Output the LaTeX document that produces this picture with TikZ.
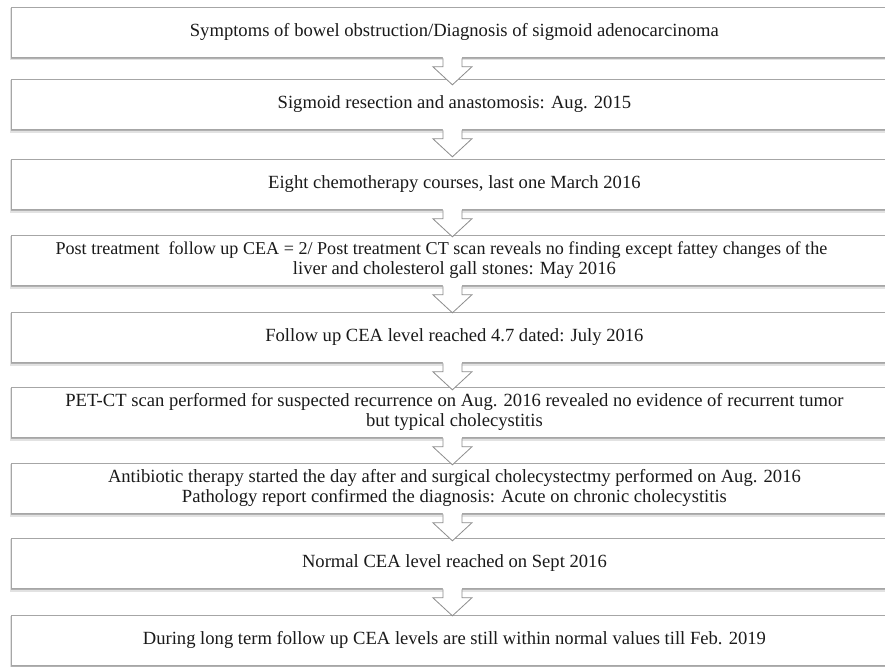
\documentclass[tikz,border=0pt]{standalone}
\usepackage{fontspec}
\setmainfont{Liberation Serif}
\definecolor{boxline}{HTML}{A6A6A6}
\definecolor{arrline}{HTML}{8C8C8C}
\definecolor{shad}{HTML}{8A8A8A}
\definecolor{txt}{HTML}{1A1A1A}
\begin{document}
\begin{tikzpicture}[x=1pt,y=-1pt,
  stepbox/.style={draw=boxline, line width=0.8pt, fill=white, minimum width=886pt,
    minimum height=50pt, inner sep=0pt, align=center, anchor=north west,
    text=txt, font=\fontsize{18.6}{20}\selectfont},
  shadowbox/.style={fill=shad, opacity=0.55},
  shadowsoft/.style={fill=shad, opacity=0.25},
  flowarrow/.style={draw=arrline, line width=0.8pt, line join=miter}]
\useasboundingbox (0,0) rectangle (885,666);
\clip (0,0) rectangle (885,666);
\foreach \t/\n/\s in {
  7/b1/{Symptoms of bowel obstruction/Diagnosis of sigmoid adenocarcinoma},
  79/b2/{Sigmoid resection and anastomosis: Aug. 2015},
  159/b3/{Eight chemotherapy courses, last one March 2016},
  235/b4/{{\fontsize{18.1}{20}\selectfont Post treatment\ \ follow up CEA = 2/ Post treatment CT scan reveals no finding except fattey changes of the}\hspace*{26pt}\\liver and cholesterol gall stones: May 2016},
  312/b5/{Follow up CEA level reached 4.7 dated: July 2016},
  387/b6/{PET-CT scan performed for suspected recurrence on Aug. 2016 revealed no evidence of recurrent tumor\\but typical cholecystitis},
  463/b7/{Antibiotic therapy started the day after and surgical cholecystectmy performed on Aug. 2016\\Pathology report confirmed the diagnosis: Acute on chronic cholecystitis},
  538/b8/{Normal CEA level reached on Sept 2016},
  615/b9/{During long term follow up CEA levels are still within normal values till Feb. 2019}}{
  \fill[shadowsoft] (10,\t+1) rectangle (897,\t+53.5);
  \fill[shadowbox] (10.5,\t+1) rectangle (897,\t+52);
  \node[stepbox] (\n) at (11,\t) {\s};
}
\foreach \i/\j in {1/2,2/3,3/4,4/5,5/6,6/7,7/8,8/9}{
  \fill[white] ([xshift=-11.5pt,yshift=1pt]b\i.south) -- ++(0,10) -- ++(-10,0)
    -- ++(19.5,18) -- ++(19.5,-18) -- ++(-10,0) -- ++(0,-10) -- cycle;
  \draw[flowarrow] ([xshift=-11.5pt,yshift=-0.6pt]b\i.south) -- ++(0,8.4) -- ++(-10,0)
    -- ++(19.5,18) -- ++(19.5,-18) -- ++(-10,0) -- ++(0,-8.4);
}
\end{tikzpicture}
\end{document}
